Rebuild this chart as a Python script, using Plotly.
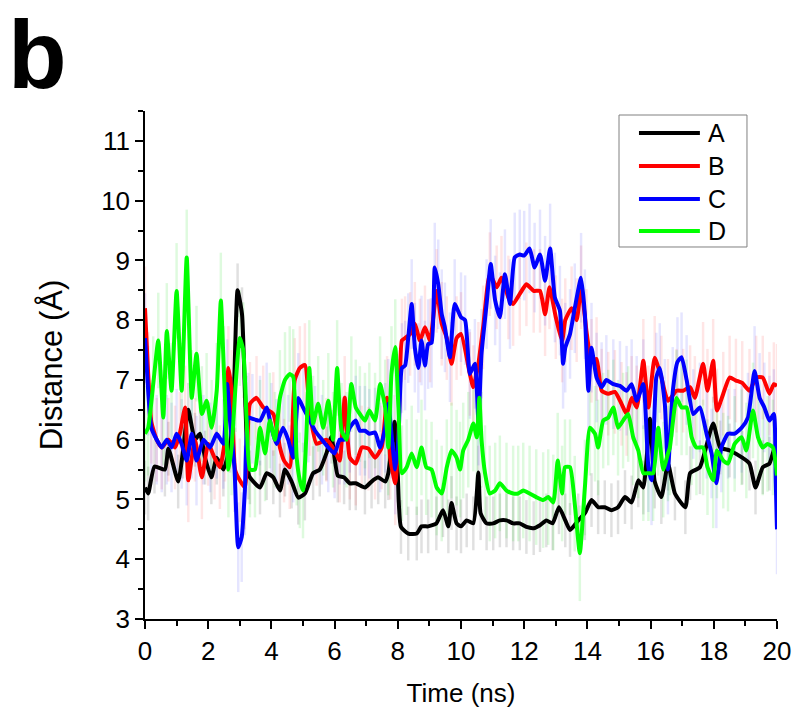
import plotly.graph_objects as go

# ---------------- data ----------------
t_A = [0, 0.1, 0.3, 0.63, 0.74, 1.05, 1.2, 1.37, 1.58, 1.74, 1.9, 2.1, 2.27, 2.48, 2.69, 2.8, 2.93, 3.07, 3.15, 3.27,
       3.32, 3.64, 3.85, 4.06, 4.27, 4.43, 4.64, 4.85, 5.06, 5.32, 5.53, 5.74, 5.9, 6.1, 6.3, 6.48, 6.67, 6.96, 7.17, 7.38,
       7.6, 7.7, 7.9, 8.0, 8.1, 8.33, 8.6, 8.75, 8.96, 9.22, 9.43, 9.6, 9.7, 9.86, 10.0, 10.18, 10.39, 10.55, 10.62, 10.81,
       11.02, 11.23, 11.44, 11.65, 11.86, 12.07, 12.3, 12.5, 12.7, 12.9, 13.1, 13.3, 13.45, 13.71, 13.92, 14.13, 14.34, 14.55, 14.76, 14.97,
       15.19, 15.4, 15.61, 15.77, 15.98, 16.13, 16.34, 16.55, 16.77, 17.1, 17.25, 17.56, 17.98, 18.2, 18.5, 18.9, 19.13, 19.32, 19.55, 19.76,
       19.93, 20.0]
y_A = [5.2, 5.1, 5.55, 5.5, 5.85, 5.3, 5.8, 6.5, 6.0, 6.1, 5.7, 5.37, 5.7, 5.5, 5.9, 6.6, 8.5, 8.1, 7.0, 5.45,
       5.37, 5.2, 5.44, 5.37, 5.15, 5.5, 5.3, 5.03, 5.1, 5.44, 5.5, 5.77, 6.05, 5.4, 5.37, 5.27, 5.27, 5.2, 5.3, 5.37,
       5.3, 5.44, 6.3, 5.4, 4.54, 4.43, 4.43, 4.55, 4.55, 4.6, 4.82, 4.55, 4.94, 4.6, 4.55, 4.65, 4.6, 5.45, 4.77, 4.6,
       4.6, 4.65, 4.65, 4.6, 4.6, 4.54, 4.52, 4.57, 4.65, 4.6, 4.87, 4.65, 4.49, 4.65, 4.77, 4.99, 4.87, 4.87, 4.82, 4.87,
       5.04, 4.95, 5.32, 5.2, 6.35, 5.3, 5.04, 5.6, 5.1, 4.87, 5.44, 5.54, 6.27, 5.87, 5.82, 5.7, 5.6, 5.2, 5.54, 5.6,
       5.87, 5.6]

t_B = [0, 0.1, 0.2, 0.37, 0.53, 0.74, 0.95, 1.1, 1.27, 1.37, 1.58, 1.8, 2.0, 2.2, 2.37, 2.53, 2.64, 2.74, 2.85, 3.0,
       3.16, 3.32, 3.53, 3.74, 4.06, 4.27, 4.4, 4.58, 4.74, 4.9, 5.06, 5.22, 5.43, 5.74, 6.0, 6.16, 6.32, 6.48, 6.67, 6.86,
       7.07, 7.28, 7.49, 7.66, 7.76, 7.92, 8.02, 8.13, 8.23, 8.39, 8.54, 8.7, 8.86, 9.02, 9.23, 9.39, 9.55, 9.7, 9.86, 10.0,
       10.28, 10.39, 10.55, 10.7, 10.91, 11.13, 11.28, 11.5, 11.65, 11.86, 12.07, 12.3, 12.5, 12.66, 12.8, 13.0, 13.2, 13.3, 13.5, 13.66,
       13.8, 13.97, 14.13, 14.29, 14.45, 14.66, 14.87, 15.08, 15.24, 15.4, 15.56, 15.77, 15.93, 16.13, 16.34, 16.55, 16.82, 17.03, 17.25, 17.4,
       17.66, 17.8, 17.98, 18.1, 18.3, 18.5, 18.7, 18.9, 19.13, 19.34, 19.55, 19.76, 19.9, 20.0]
y_B = [8.2, 7.1, 6.3, 6.0, 5.87, 6.0, 5.87, 6.1, 6.54, 5.32, 6.0, 5.37, 5.93, 5.7, 5.54, 6.0, 7.2, 6.8, 5.5, 5.32,
       5.2, 6.6, 6.7, 6.54, 6.43, 5.87, 5.65, 5.54, 7.0, 7.2, 7.25, 6.43, 5.93, 6.0, 5.82, 5.65, 6.7, 5.7, 5.6, 5.87,
       5.85, 5.7, 5.87, 6.7, 5.7, 5.27, 6.0, 7.66, 7.7, 7.77, 7.94, 7.66, 7.88, 7.66, 8.49, 7.94, 7.7, 7.27, 7.7, 7.77,
       7.1, 6.88, 7.27, 7.88, 8.77, 8.55, 8.71, 8.38, 8.27, 8.44, 8.6, 8.49, 8.49, 8.1, 8.55, 8.05, 7.66, 8.0, 8.2, 8.0,
       8.55, 7.82, 7.32, 7.35, 6.82, 6.77, 6.8, 6.6, 6.43, 6.7, 6.54, 7.32, 6.54, 7.37, 7.04, 6.65, 6.82, 6.82, 6.88, 6.7,
       7.27, 6.82, 7.32, 6.49, 6.77, 7.04, 6.99, 6.95, 6.82, 7.04, 7.04, 6.77, 6.93, 6.9]

t_C = [0, 0.1, 0.2, 0.37, 0.53, 0.69, 0.84, 1.0, 1.16, 1.32, 1.48, 1.63, 1.85, 2.06, 2.27, 2.48, 2.6, 2.69, 2.83, 2.95,
       3.06, 3.16, 3.27, 3.4, 3.64, 3.85, 4.0, 4.16, 4.37, 4.53, 4.69, 4.85, 5.0, 5.17, 5.38, 5.6, 5.8, 6.0, 6.16, 6.32,
       6.48, 6.67, 6.8, 6.96, 7.1, 7.28, 7.44, 7.6, 7.7, 7.8, 7.92, 8.02, 8.13, 8.23, 8.33, 8.44, 8.54, 8.65, 8.75, 8.86,
       8.96, 9.07, 9.17, 9.28, 9.39, 9.49, 9.65, 9.8, 10.0, 10.13, 10.28, 10.44, 10.55, 10.65, 10.81, 10.94, 11.08, 11.23, 11.39, 11.55,
       11.7, 11.86, 12.0, 12.17, 12.33, 12.5, 12.66, 12.82, 12.97, 13.13, 13.23, 13.3, 13.45, 13.6, 13.8, 13.92, 14.03, 14.13, 14.29, 14.45,
       14.6, 14.82, 15.03, 15.24, 15.4, 15.56, 15.77, 15.93, 16.03, 16.18, 16.29, 16.45, 16.55, 16.7, 16.85, 16.98, 17.14, 17.35, 17.56, 17.77,
       17.93, 18.08, 18.24, 18.45, 18.66, 18.88, 19.08, 19.29, 19.45, 19.6, 19.76, 19.9, 19.96, 20.0]
y_C = [7.7, 6.82, 6.2, 6.0, 5.87, 6.0, 5.87, 6.1, 5.93, 5.65, 6.1, 5.65, 6.0, 5.87, 6.1, 5.93, 6.93, 6.32, 5.54, 4.2,
       4.37, 5.15, 6.37, 6.35, 6.32, 6.54, 6.2, 5.93, 6.2, 6.0, 5.7, 6.7, 6.54, 6.37, 6.15, 6.0, 5.87, 5.77, 6.0, 6.0,
       6.2, 6.32, 6.15, 6.15, 6.1, 6.12, 5.87, 6.2, 6.6, 6.1, 5.5, 6.0, 7.2, 7.24, 7.7, 8.27, 7.54, 7.2, 7.66, 7.24,
       7.6, 7.62, 8.88, 8.6, 8.1, 7.88, 7.38, 8.27, 8.05, 8.0, 7.1, 7.27, 6.32, 7.44, 8.27, 8.94, 8.33, 8.05, 8.77, 8.27,
       9.05, 9.1, 9.08, 9.2, 8.88, 9.1, 8.66, 9.2, 8.38, 8.16, 7.27, 7.54, 7.77, 8.2, 8.71, 8.1, 6.82, 7.54, 7.04, 6.88,
       7.0, 6.93, 6.9, 6.82, 6.93, 6.65, 6.93, 5.54, 5.32, 7.04, 7.2, 6.6, 5.5, 6.8, 7.3, 7.38, 7.0, 6.43, 6.54, 6.1,
       5.77, 5.27, 5.87, 6.1, 6.1, 6.2, 6.37, 7.15, 6.7, 6.54, 6.32, 6.43, 5.3, 4.5]

t_D = [0, 0.1, 0.26, 0.42, 0.58, 0.69, 0.84, 1.0, 1.16, 1.32, 1.48, 1.63, 1.8, 1.95, 2.11, 2.27, 2.4, 2.5, 2.64, 2.74,
       2.87, 3.0, 3.11, 3.22, 3.32, 3.48, 3.64, 3.8, 3.95, 4.11, 4.27, 4.43, 4.58, 4.69, 4.8, 4.9, 5.0, 5.1, 5.2, 5.32,
       5.48, 5.64, 5.8, 5.95, 6.08, 6.22, 6.38, 6.53, 6.67, 6.8, 6.96, 7.1, 7.28, 7.44, 7.6, 7.7, 7.8, 7.92, 8.02, 8.13,
       8.28, 8.44, 8.6, 8.75, 8.9, 9.07, 9.23, 9.39, 9.55, 9.7, 9.86, 9.97, 10.07, 10.23, 10.39, 10.5, 10.58, 10.65, 10.76, 10.91,
       11.08, 11.23, 11.44, 11.65, 11.81, 11.97, 12.17, 12.38, 12.6, 12.76, 12.92, 13.06, 13.2, 13.29, 13.45, 13.6, 13.76, 13.92, 14.08, 14.24,
       14.34, 14.5, 14.66, 14.82, 14.97, 15.13, 15.29, 15.45, 15.61, 15.77, 15.93, 16.08, 16.24, 16.4, 16.55, 16.61, 16.82, 16.98, 17.14, 17.3,
       17.45, 17.66, 17.8, 17.98, 18.1, 18.3, 18.45, 18.66, 18.88, 19.03, 19.24, 19.4, 19.55, 19.7, 19.87, 20.0]
y_D = [6.1, 6.2, 6.93, 7.66, 6.37, 7.82, 6.82, 8.49, 6.82, 9.05, 6.7, 7.44, 6.43, 6.65, 6.2, 6.82, 8.33, 7.1, 5.5, 5.87,
       6.93, 7.7, 7.5, 6.27, 5.5, 5.5, 6.2, 5.77, 6.32, 6.0, 6.7, 7.0, 7.1, 7.05, 5.7, 5.32, 5.15, 6.0, 7.2, 6.27,
       6.6, 6.2, 6.65, 6.0, 7.2, 6.15, 6.0, 6.93, 6.54, 6.43, 6.32, 6.49, 6.32, 6.93, 6.54, 5.87, 7.1, 7.55, 6.54, 5.44,
       5.54, 5.77, 5.54, 5.87, 5.54, 5.5, 5.2, 5.1, 5.54, 5.82, 5.7, 5.5, 5.82, 6.0, 6.27, 6.04, 6.7, 6.0, 5.44, 5.1,
       5.15, 5.27, 5.15, 5.1, 5.1, 5.15, 5.1, 5.04, 4.99, 5.04, 4.95, 5.65, 5.1, 5.54, 5.54, 4.93, 4.1, 5.2, 6.2, 6.1,
       5.87, 6.32, 6.37, 6.54, 6.2, 6.32, 6.43, 6.04, 5.82, 5.44, 5.44, 5.44, 6.2, 5.5, 5.77, 5.87, 6.7, 6.54, 6.54, 6.04,
       5.87, 5.87, 5.54, 5.32, 5.82, 5.65, 5.6, 5.93, 6.04, 5.82, 6.49, 6.04, 5.87, 5.93, 5.87, 5.4]

# typical half-width of the faint raw (unsmoothed) fluctuation of each series, in Å
noise_A = 0.45
noise_B = 0.7
noise_C = 0.75
noise_D = 0.8

series_names = ["A", "B", "C", "D"]

for tt, yy in ((t_A, y_A), (t_B, y_B), (t_C, y_C), (t_D, y_D)):
    assert len(tt) == len(yy), (len(tt), len(yy))

colors = ["#000000", "#ff0000", "#0000ff", "#00ff00"]
faint = ["rgba(0,0,0,0.12)", "rgba(255,0,0,0.10)", "rgba(0,0,255,0.10)", "rgba(0,220,0,0.13)"]

fig = go.Figure()
data = [(t_A, y_A, noise_A), (t_B, y_B, noise_B), (t_C, y_C, noise_C), (t_D, y_D, noise_D)]

# faint raw-fluctuation layer
for (tt, yy, nz), fc in zip(data, faint):
    fig.add_trace(go.Scatter(
        x=tt, y=yy, mode="markers", marker=dict(size=1, opacity=0),
        error_y=dict(type="constant", value=nz, color=fc, thickness=2.5, width=0),
        showlegend=False, hoverinfo="skip"))

# smoothed lines
for (tt, yy, nz), name, c in zip(data, series_names, colors):
    fig.add_trace(go.Scatter(x=tt, y=yy, mode="lines", name=name, showlegend=False,
                             line=dict(color=c, width=4, shape="spline", smoothing=0.5)))

font_family = "Liberation Sans, Arial, sans-serif"

# legend box drawn in paper coordinates
shapes = [dict(type="rect", xref="paper", yref="paper", x0=0.750, x1=0.9525, y0=0.7323, y1=0.9921,
               line=dict(color="#808080", width=1), fillcolor="white", layer="above")]
annotations = []
legend_rows = [0.9567, 0.8917, 0.8268, 0.7638]
for name, c, ly in zip(series_names, colors, legend_rows):
    shapes.append(dict(type="line", xref="paper", yref="paper", x0=0.7816, x1=0.878, y0=ly, y1=ly,
                       line=dict(color=c, width=4), layer="above"))
    annotations.append(dict(text=name, xref="paper", yref="paper", x=0.8877, y=ly,
                            xanchor="left", yanchor="middle", showarrow=False,
                            font=dict(size=25, family=font_family, color="black")))

annotations.append(dict(text="<b>b</b>", xref="paper", yref="paper",
                        x=-0.2185, y=1.2185, xanchor="left", yanchor="top",
                        showarrow=False, borderpad=0,
                        font=dict(size=96, family=font_family, color="black")))

fig.update_layout(
    width=792, height=709,
    margin=dict(l=145, r=15, t=111, b=90, autoexpand=False),
    paper_bgcolor="white", plot_bgcolor="white",
    font=dict(family=font_family, color="black"),
    showlegend=False,
    shapes=shapes,
    annotations=annotations,
)

fig.update_xaxes(range=[0, 20], dtick=2, tick0=0, showgrid=False, zeroline=False, automargin=False,
                 showline=True, linecolor="black", linewidth=1.5,
                 ticks="outside", ticklen=8, tickwidth=1.5, tickcolor="black",
                 minor=dict(dtick=1, ticks="outside", ticklen=5, tickwidth=1.5, tickcolor="black"),
                 tickfont=dict(size=26), title=dict(text="Time (ns)", font=dict(size=26), standoff=19))
fig.update_yaxes(range=[3, 11.5], dtick=1, tick0=3, showgrid=False, zeroline=False, automargin=False,
                 showline=True, linecolor="black", linewidth=1.5,
                 ticks="outside", ticklen=8, tickwidth=1.5, tickcolor="black",
                 minor=dict(dtick=0.5, ticks="outside", ticklen=5, tickwidth=1.5, tickcolor="black"),
                 tickfont=dict(size=26), title=dict(text="Distance (Å)", font=dict(size=31), standoff=29))

# place the figure at the window's top-left corner, with no page margin or scrollbars
fig.write_html("out.html", config={"displayModeBar": False},
               post_script="document.body.style.margin='0';document.body.style.overflow='hidden';")
